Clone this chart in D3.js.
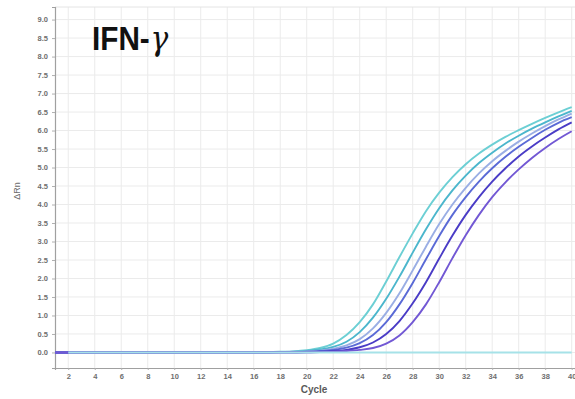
<!DOCTYPE html>
<html>
<head>
<meta charset="utf-8">
<script src="https://cdn.jsdelivr.net/npm/d3@7"></script>
<style>
  html, body { margin: 0; padding: 0; background: #fff; }
  svg { display: block; }
</style>
</head>
<body>
<svg id="chart" width="575" height="399"></svg>
<script>
// Amplification plot: ΔRn per PCR cycle for IFN-γ replicates
const cycles = d3.range(1, 41);

const curveA = [0,0,0,0,0,0,0,0,0,0,0,0,0,0,0,0, 0.01,0.02,0.03,0.06,0.12,0.24,0.47,0.82,1.30,1.92,2.58,3.22,3.82,4.32,4.74,5.09,5.38,5.62,5.83,6.01,6.18,6.34,6.49,6.63];
const curveB = [0,0,0,0,0,0,0,0,0,0,0,0,0,0,0,0, 0.01,0.01,0.02,0.04,0.08,0.15,0.29,0.55,0.94,1.45,2.05,2.70,3.33,3.90,4.38,4.78,5.12,5.40,5.65,5.86,6.05,6.22,6.38,6.53];
const curveC = [0,0,0,0,0,0,0,0,0,0,0,0,0,0,0,0, 0,0.01,0.02,0.03,0.05,0.10,0.19,0.36,0.65,1.07,1.60,2.22,2.86,3.47,4.00,4.45,4.84,5.17,5.45,5.70,5.92,6.12,6.30,6.46];
const curveD = [0,0,0,0,0,0,0,0,0,0,0,0,0,0,0,0, 0,0.01,0.01,0.02,0.04,0.07,0.13,0.25,0.47,0.82,1.30,1.88,2.52,3.15,3.72,4.20,4.62,4.98,5.29,5.56,5.80,6.02,6.21,6.36];
const curveE = [0,0,0,0,0,0,0,0,0,0,0,0,0,0,0,0, 0,0,0,0.01,0.02,0.04,0.07,0.14,0.27,0.50,0.85,1.33,1.90,2.54,3.16,3.72,4.20,4.62,4.98,5.30,5.57,5.81,6.03,6.22];
const curveF = [0,0,0,0,0,0,0,0,0,0,0,0,0,0,0,0, 0,0,0,0,0.01,0.02,0.04,0.07,0.12,0.24,0.46,0.82,1.30,1.90,2.55,3.17,3.72,4.20,4.60,4.95,5.26,5.53,5.77,5.98];
const ntc = cycles.slice(1).map(() => 0);

const seriesValues = [curveA, curveB, curveC, curveD, curveE, curveF];
const seriesColors = ["#6ccfd4", "#4bb6cc", "#9aaee4", "#5a6ad6", "#4a3cc6", "#7258d4"];

const xTicks = d3.range(2, 41, 2);
const yTicks = d3.range(0, 9.01, 0.5);

const svg = d3.select("#chart");
const plotLeft = 55, plotRight = 575, plotTop = 7, plotBottom = 368;

const x = d3.scaleLinear().domain([1, 40.25]).range([plotLeft, plotRight]);
const y = d3.scaleLinear().domain([-0.42, 9.34]).range([plotBottom, plotTop]);

// grid
const grid = svg.append("g");
grid.selectAll("line.v").data(xTicks).join("line")
  .attr("x1", d => x(d)).attr("x2", d => x(d))
  .attr("y1", plotTop).attr("y2", plotBottom)
  .attr("stroke", "#ebebeb").attr("stroke-width", 1);
grid.selectAll("line.h").data(yTicks).join("line")
  .attr("x1", plotLeft).attr("x2", plotRight)
  .attr("y1", d => y(d)).attr("y2", d => y(d))
  .attr("stroke", "#ebebeb").attr("stroke-width", 1);
grid.append("line").attr("x1", plotLeft).attr("x2", plotRight).attr("y1", plotTop).attr("y2", plotTop)
  .attr("stroke", "#e4e4e4");

// axes
const xAxis = svg.append("g").attr("transform", `translate(0,${plotBottom})`)
  .call(d3.axisBottom(x).tickValues(xTicks).tickSize(2).tickPadding(4).tickFormat(d3.format("d")));
const yAxis = svg.append("g").attr("transform", `translate(${plotLeft},0)`)
  .call(d3.axisLeft(y).tickValues(yTicks).tickSize(3).tickPadding(4).tickFormat(d3.format(".1f")));
[xAxis, yAxis].forEach(g => {
  g.select(".domain").attr("stroke", "#a0a0a0").attr("stroke-width", 1.2);
  g.selectAll(".tick line").attr("stroke", "#b0b0b0");
  g.selectAll(".tick text").attr("fill", "#6e6e6e")
    .style("font-family", "'Liberation Sans', Arial, sans-serif")
    .style("font-size", "7.5px").style("font-weight", "bold");
});

// amplification curves
const line = d3.line()
  .x((d, i) => x(cycles[i]))
  .y(d => y(d))
  .curve(d3.curveMonotoneX);

svg.append("g").selectAll("path").data(seriesValues).join("path")
  .attr("d", d => line(d))
  .attr("fill", "none")
  .attr("stroke", (d, i) => seriesColors[i])
  .attr("stroke-width", 1.9)
  .attr("stroke-linejoin", "round");

// no-template control
svg.append("path")
  .attr("d", d3.line().x((d, i) => x(cycles[i + 1])).y(d => y(d))(ntc))
  .attr("fill", "none").attr("stroke", "#a6e2e8").attr("stroke-width", 2);

// axis titles
svg.append("text").attr("x", 314).attr("y", 393).attr("text-anchor", "middle")
  .attr("fill", "#5a5a5a")
  .style("font-family", "'Liberation Sans', Arial, sans-serif")
  .style("font-size", "10px").style("font-weight", "bold").text("Cycle");
svg.append("text").attr("transform", "translate(20,191) rotate(-90)")
  .attr("text-anchor", "middle").attr("fill", "#6a6a6a")
  .style("font-family", "'Liberation Sans', Arial, sans-serif")
  .style("font-size", "9px").text("ΔRn");

// gene label
const title = svg.append("text").attr("transform", "translate(92,50) scale(0.9,1)")
  .attr("fill", "#111")
  .style("font-family", "'Liberation Sans', Arial, sans-serif")
  .style("font-size", "33px").style("font-weight", "bold");
title.append("tspan").text("IFN-");
title.append("tspan").style("font-style", "italic").style("font-weight", "normal")
  .style("font-family", "'DejaVu Serif', serif").attr("dx", 1).text("γ");
</script>
</body>
</html>
